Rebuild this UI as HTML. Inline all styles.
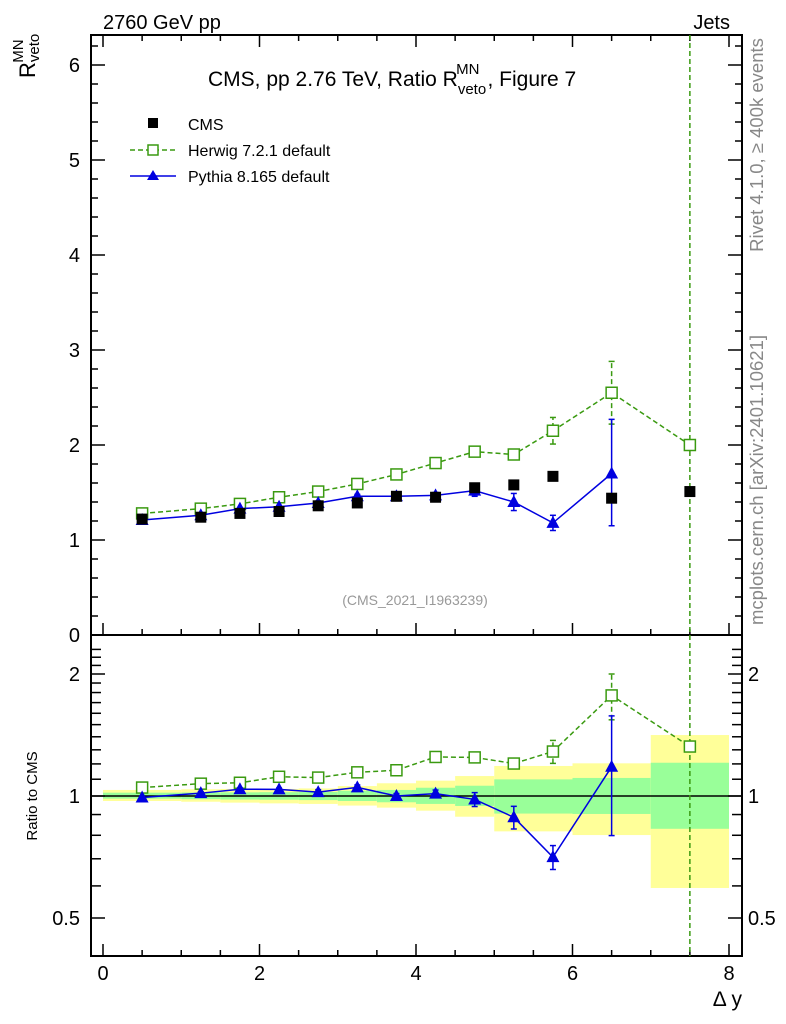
<!DOCTYPE html>
<html><head><meta charset="utf-8">
<style>
body{margin:0;background:#fff;}
svg{display:block;font-family:"Liberation Sans",sans-serif;}
</style></head>
<body>
<svg id="chart" width="786" height="1024" viewBox="0 0 786 1024" xmlns="http://www.w3.org/2000/svg">
<text x="103" y="29" font-size="20">2760 GeV pp</text>
<text x="730" y="29" font-size="20" text-anchor="end">Jets</text>
<text x="208" y="86" font-size="21">CMS, pp 2.76 TeV, Ratio R<tspan font-size="15" dy="8">veto</tspan><tspan font-size="15" dx="-30" dy="-20">MN</tspan><tspan dx="8" dy="12">, Figure 7</tspan></text>
<text transform="translate(35,78) rotate(-90)" font-size="22">R<tspan font-size="15" dy="4">veto</tspan><tspan font-size="15" dx="-29" dy="-16">MN</tspan></text>
<text transform="translate(37,796) rotate(-90)" font-size="15" text-anchor="middle">Ratio to CMS</text>
<text x="742" y="1006" font-size="21" text-anchor="end">Δ y</text>
<text transform="translate(763,145) rotate(-90)" font-size="18.5" fill="#888" text-anchor="middle">Rivet 4.1.0, ≥ 400k events</text>
<text transform="translate(763,480) rotate(-90)" font-size="18.5" fill="#888" text-anchor="middle">mcplots.cern.ch [arXiv:2401.10621]</text>
<text x="415" y="605" font-size="14" fill="#999" text-anchor="middle">(CMS_2021_I1963239)</text>
<g id="plot"></g>
<g>
 <rect x="148" y="118" width="10" height="10" fill="#000"/>
 <text x="188" y="130" font-size="16">CMS</text>
 <line x1="130" y1="150" x2="176" y2="150" stroke="#3a9a10" stroke-width="1.5" stroke-dasharray="5,3"/>
 <rect x="148" y="145" width="10" height="10" fill="#fff" stroke="#3a9a10" stroke-width="1.5"/>
 <text x="188" y="156" font-size="16">Herwig 7.2.1 default</text>
 <line x1="130" y1="176" x2="176" y2="176" stroke="#0000e0" stroke-width="1.5"/>
 <polygon points="153,170 159,180 147,180" fill="#0000e0"/>
 <text x="188" y="182" font-size="16">Pythia 8.165 default</text>
</g>
</svg>
<script>
const xCenters=[0.5,1.25,1.75,2.25,2.75,3.25,3.75,4.25,4.75,5.25,5.75,6.5,7.5];
const cmsValues=[1.22,1.24,1.28,1.30,1.36,1.39,1.46,1.45,1.55,1.58,1.67,1.44,1.51];
const herwigValues=[1.28,1.33,1.38,1.45,1.51,1.59,1.69,1.81,1.93,1.90,2.15,2.55,2.00];
const herwigErrors=[0.01,0.01,0.01,0.01,0.01,0.01,0.01,0.02,0.02,0.03,0.14,0.33,0.02];
const pythiaValues=[1.21,1.26,1.33,1.35,1.39,1.46,1.46,1.47,1.52,1.40,1.18,1.70];
const pythiaErrLo=[0.01,0.01,0.01,0.01,0.02,0.02,0.02,0.03,0.06,0.09,0.08,0.55];
const pythiaErrHi=[0.01,0.01,0.01,0.01,0.02,0.02,0.02,0.03,0.06,0.09,0.08,0.57];
const bandEdges=[0,1,1.5,2,2.5,3,3.5,4,4.5,5,6,7,8];
const yellowHi=[1.035,1.039,1.041,1.041,1.044,1.058,1.075,1.091,1.12,1.186,1.204,1.414];
const yellowLo=[0.972,0.968,0.963,0.959,0.956,0.947,0.936,0.920,0.889,0.818,0.801,0.593];
const greenHi=[1.019,1.02,1.021,1.022,1.023,1.03,1.035,1.048,1.06,1.099,1.108,1.208];
const greenLo=[0.985,0.982,0.98,0.979,0.977,0.972,0.965,0.956,0.945,0.905,0.903,0.83];
const xTicks=[0,2,4,6,8];
const yTicks=[0,1,2,3,4,5,6];
const rTicks=[0.5,1,2];

const NS="http://www.w3.org/2000/svg";
const L=91,R=742,T=35,MB=635,RB=956;
const X=v=>103+v*78.25;
const Y=v=>635-v*95;
const RY=r=>796-122*Math.log2(r);
const g=document.getElementById('plot');
function mk(tag,attrs,parent){const e=document.createElementNS(NS,tag);for(const k in attrs)e.setAttribute(k,attrs[k]);(parent||g).appendChild(e);return e;}

for(let i=0;i<yellowHi.length;i++){
  const y=mk('rect',{x:X(bandEdges[i]),y:RY(yellowHi[i]),width:X(bandEdges[i+1])-X(bandEdges[i]),height:RY(yellowLo[i])-RY(yellowHi[i]),fill:'#ffff99'});
  
  
  const gr=mk('rect',{x:X(bandEdges[i]),y:RY(greenHi[i]),width:X(bandEdges[i+1])-X(bandEdges[i]),height:RY(greenLo[i])-RY(greenHi[i]),fill:'#99ff99'});
  
  
}
const one=mk('line',{x1:L,x2:R,y1:RY(1),y2:RY(1),stroke:'#000','stroke-width':1.5});



const f1=mk('rect',{x:L,y:T,width:R-L,height:MB-T,fill:'none',stroke:'#000','stroke-width':2});


const f2=mk('rect',{x:L,y:MB,width:R-L,height:RB-MB,fill:'none',stroke:'#000','stroke-width':2});



for(let v=0;v<=8.001;v+=0.5){
  const big=Math.abs(v-Math.round(v))<1e-6&&Math.round(v)%2===0;
  const len=big?12:6;
  for(const yb of [MB,RB]){mk('line',{x1:X(v),x2:X(v),y1:yb,y2:yb-len,stroke:'#000','stroke-width':1.5});}
  mk('line',{x1:X(v),x2:X(v),y1:T,y2:T+len,stroke:'#000','stroke-width':1.5});
}
xTicks.forEach(v=>{const t=mk('text',{x:X(v),y:980,'font-size':20,'text-anchor':'middle'});t.textContent=v;

});
for(let v=0;v<=6.4;v+=0.2){
  const major=Math.abs(v-Math.round(v))<1e-6;const len=major?14:7;
  if(Y(v)<T)continue;
  mk('line',{x1:L,x2:L+len,y1:Y(v),y2:Y(v),stroke:'#000','stroke-width':1.5});
  mk('line',{x1:R,x2:R-len,y1:Y(v),y2:Y(v),stroke:'#000','stroke-width':1.5});
}
yTicks.forEach(v=>{const t=mk('text',{x:80,y:Y(v)+7,'font-size':20,'text-anchor':'end'});t.textContent=v;

});
const rt=[0.5,0.6,0.7,0.8,0.9,1,1.1,1.2,1.3,1.4,1.5,1.6,1.7,1.8,1.9,2,2.1,2.2,2.3];
rt.forEach(r=>{const major=rTicks.includes(r);const len=major?14:10;
  if(RY(r)<MB+2)return;
  mk('line',{x1:L,x2:L+len,y1:RY(r),y2:RY(r),stroke:'#000','stroke-width':1.5});
  mk('line',{x1:R,x2:R-len,y1:RY(r),y2:RY(r),stroke:'#000','stroke-width':1.5});});
rTicks.forEach(r=>{
  const t=mk('text',{x:80,y:RY(r)+7,'font-size':20,'text-anchor':'end'});t.textContent=r;
  
  
  const t2=mk('text',{x:748,y:RY(r)+7,'font-size':20});t2.textContent=r;
  
  });

const vl=mk('line',{x1:X(7.5),x2:X(7.5),y1:T,y2:RB,stroke:'#3a9a10','stroke-width':1.5,'stroke-dasharray':'5,3'});



function series(vals,yf,color,dash,marker,name,eLo,eHi){
  const pts=vals.map((v,i)=>X(xCenters[i])+','+yf(v)).join(' ');
  const pl=mk('polyline',{points:pts,fill:'none',stroke:color,'stroke-width':1.5,'stroke-dasharray':dash||'none'});
  
  
  vals.forEach((v,i)=>{
    const x=X(xCenters[i]),y=yf(v);
    if(eLo){const y1=eLo(i),y2=eHi(i);
      mk('line',{x1:x,x2:x,y1:y1,y2:y2,stroke:color,'stroke-width':1.5,'stroke-dasharray':dash||'none'});
      mk('line',{x1:x-3,x2:x+3,y1:y1,y2:y1,stroke:color,'stroke-width':1.5});
      mk('line',{x1:x-3,x2:x+3,y1:y2,y2:y2,stroke:color,'stroke-width':1.5});}
    let m;
    if(marker==='sq')m=mk('rect',{x:x-5.5,y:y-5.5,width:11,height:11,fill:'#fff',stroke:color,'stroke-width':1.5});
    else if(marker==='tri')m=mk('polygon',{points:`${x},${y-7} ${x+6.5},${y+5} ${x-6.5},${y+5}`,fill:color});
    else m=mk('rect',{x:x-5.5,y:y-5.5,width:11,height:11,fill:color});
    
    
  });
}
series(herwigValues,Y,'#3a9a10','5,3','sq','herwig',i=>Y(herwigValues[i]-herwigErrors[i]),i=>Y(herwigValues[i]+herwigErrors[i]));
series(pythiaValues,Y,'#0000e0',null,'tri','pythia',i=>Y(pythiaValues[i]-pythiaErrLo[i]),i=>Y(pythiaValues[i]+pythiaErrHi[i]));
cmsValues.forEach((v,i)=>{const m=mk('rect',{x:X(xCenters[i])-5.5,y:Y(v)-5.5,width:11,height:11,fill:'#000'});

});
const hr=herwigValues.map((v,i)=>v/cmsValues[i]);
const pr=pythiaValues.map((v,i)=>v/cmsValues[i]);
series(hr,RY,'#3a9a10','5,3','sq','herwig-ratio',i=>RY((herwigValues[i]-herwigErrors[i])/cmsValues[i]),i=>RY((herwigValues[i]+herwigErrors[i])/cmsValues[i]));
series(pr,RY,'#0000e0',null,'tri','pythia-ratio',i=>RY((pythiaValues[i]-pythiaErrLo[i])/cmsValues[i]),i=>RY((pythiaValues[i]+pythiaErrHi[i])/cmsValues[i]));
</script>
</body></html>
